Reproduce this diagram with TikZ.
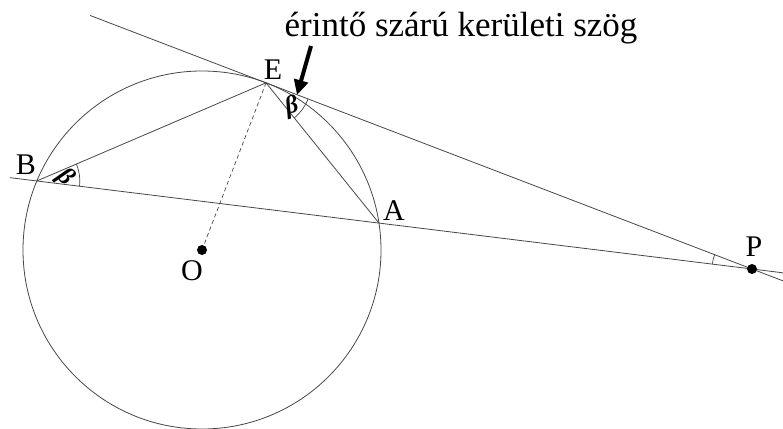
\documentclass[tikz,border=0pt]{standalone}
\usepackage{fontspec}
\setmainfont{Liberation Serif}
\newfontfamily\titlefont{Liberation Serif}
\usetikzlibrary{calc,arrows.meta}
\begin{document}
\begin{tikzpicture}[x=1pt,y=1pt,
  thinline/.style={line width=0.8pt,draw=black!72},
  anglemark/.style={line width=0.7pt,draw=black!72},
  ptlabel/.style={font=\fontsize{30}{30}\selectfont,inner sep=0pt},
  betalabel/.style={font=\fontsize{25}{25}\selectfont\bfseries\itshape,inner sep=0pt},
  dot/.style={circle,fill=black,inner sep=0pt,minimum size=10pt}]
\useasboundingbox (0,0) rectangle (783,428);
\coordinate (O) at (202,178);
\coordinate (E) at ($(O)+(69.04:179)$);
\coordinate (B) at ($(O)+(157.32:179)$);
\coordinate (A) at ($(O)+(8.65:179)$);
\coordinate (P) at (752,159);
\coordinate (T1) at ($(P)!1.362!(E)$);
\coordinate (T2) at ($(P)!-0.064!(E)$);
\coordinate (S1) at ($(P)!1.0376!(B)$);
\coordinate (S2) at ($(P)!-0.0434!(B)$);
% circle
\draw[thinline] (O) circle[radius=179];
% tangent and secant
\draw[thinline] (T1) -- (T2);
\draw[thinline] (S1) -- (S2);
% chords
\draw[thinline] (B) -- (E);
\draw[thinline] (E) -- (A);
\draw[line width=0.7pt,draw=black!72,dash pattern=on 4pt off 3pt] (E) -- (O);
% angle marks
\draw[anglemark] ($(B)+(-7.02:43)$) arc[start angle=-7.02,end angle=23.2,radius=43];
\draw[anglemark] ($(E)+(-51.18:45)$) arc[start angle=-51.18,end angle=-20.96,radius=45];
\draw[anglemark] ($(P)+(159.04:40)$) arc[start angle=159.04,end angle=172.98,radius=40];
\node[betalabel,rotate=-45] (betaB) at (65,250.5) {β};
\node[betalabel,rotate=15] (betaE) at (292,321) {β};
% points
\node[dot] (dotO) at (O) {};
\node[dot] (dotP) at (P) {};
% labels
\node[ptlabel] (labE) at (273,358) {E};
\node[ptlabel] (labB) at (26,263) {B};
\node[ptlabel] (labA) at (394,217) {A};
\node[ptlabel] (labO) at (192,157) {O};
\node[ptlabel] (labP) at (754,181) {P};
% title and arrow
\node[font=\titlefont\fontsize{35}{35}\selectfont,inner sep=0pt] (title) at (461,400) {érintő szárú kerületi szög};
\coordinate (arrTail) at (311,382);
\coordinate (arrTip) at (297,333);
\draw[line width=4pt,-{Triangle[length=15pt,width=14pt]}] (arrTail) -- (arrTip);
\end{tikzpicture}
\end{document}
